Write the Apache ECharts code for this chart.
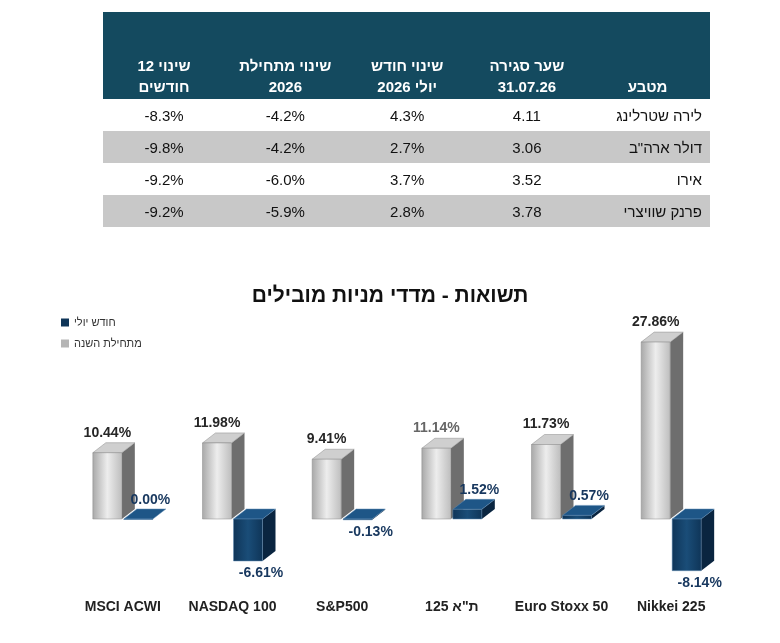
<!DOCTYPE html>
<html><head><meta charset="utf-8">
<script src="https://cdn.jsdelivr.net/npm/echarts@6/dist/echarts.min.js"></script>
<style>
body{margin:0;background:#fff;font-family:"Liberation Sans","DejaVu Sans",sans-serif;}
#chart{position:absolute;left:0;top:0;width:780px;height:643px;}
table{position:absolute;left:103px;top:12px;width:607px;border-collapse:collapse;direction:rtl;z-index:2;}
th{background:#144a5f;color:#fff;font-size:15px;font-weight:bold;height:85px;vertical-align:bottom;padding:0 4px 2px;text-align:center;line-height:21px;}
td{font-size:15px;height:32px;padding:0;text-align:center;color:#111;}
td.n{text-align:right;padding-right:8px;}
tr.g td{background:#c8c8c8;}
</style></head><body>
<div id="chart"></div>
<table id="tbl"></table>
<script>
// table data
let headers = ["מטבע", "שער סגירה<br>31.07.26", "שינוי חודש<br>יולי 2026", "שינוי מתחילת<br>2026", "שינוי 12<br>חודשים"];
let colWidths = [125, 115, 125, 120, 122];
let currencies = ["לירה שטרלינג", "דולר ארה\"ב", "אירו", "פרנק שוויצרי"];
let closing = ["4.11", "3.06", "3.52", "3.78"];
let monthChg = ["4.3%", "2.7%", "3.7%", "2.8%"];
let ytdChg = ["-4.2%", "-4.2%", "-6.0%", "-5.9%"];
let yearChg = ["-8.3%", "-9.8%", "-9.2%", "-9.2%"];

// chart data
let categories = ["MSCI ACWI", "NASDAQ 100", "S&P500", "ת\"א 125", "Euro Stoxx 50", "Nikkei 225"];
let ytdValues = [10.44, 11.98, 9.41, 11.14, 11.73, 27.86];
let julyValues = [0.00, -6.61, -0.13, 1.52, 0.57, -8.14];

let html = "<tr>" + headers.map((h, i) => `<th style="width:${colWidths[i]}px">${h}</th>`).join("") + "</tr>";
currencies.forEach((c, i) => {
  html += `<tr class="${i % 2 ? "g" : ""}"><td class="n">${c}</td><td>${closing[i]}</td>` +
    `<td dir="ltr">${monthChg[i]}</td><td dir="ltr">${ytdChg[i]}</td><td dir="ltr">${yearChg[i]}</td></tr>`;
});
document.getElementById("tbl").innerHTML = html;

const FONT = "Liberation Sans";
const BW = 29, DX = 13, DY = -10;

let bar3d = (offset, faces, labelColor, labelMode) => (params, api) => {
  let v = api.value(1);
  let c = api.coord([api.value(0), v]);
  let z = api.coord([api.value(0), 0]);
  let x0 = c[0] + offset, x1 = x0 + BW;
  let top = Math.min(c[1], z[1]), bot = Math.max(c[1], z[1]);
  let label;
  let txt = v.toFixed(2) + "%";
  if (labelMode === "gray") {
    label = { type: "text", style: { x: x0 + BW / 2, y: top + DY - 3, text: txt, fill: labelColor[params.dataIndex] || labelColor[0],
      font: "bold 14px " + FONT, align: "center", verticalAlign: "bottom" } };
  } else if (v >= 0) {
    label = { type: "text", style: { x: x0 + BW / 2 + 12, y: top + DY - 2, text: txt, fill: labelColor[0],
      font: "bold 14px " + FONT, align: "center", verticalAlign: "bottom" } };
  } else {
    label = { type: "text", style: { x: x0 + BW / 2 + 13, y: bot + 5, text: txt, fill: labelColor[0],
      font: "bold 14px " + FONT, align: "center", verticalAlign: "top" } };
  }
  return { type: "group", children: [
    { type: "polygon", shape: { points: [[x1, top], [x1 + DX, top + DY], [x1 + DX, bot + DY], [x1, bot]] }, style: { fill: faces.side } },
    { type: "polygon", shape: { points: [[x0, top], [x0 + DX, top + DY], [x1 + DX, top + DY], [x1, top]] }, style: { fill: faces.top, stroke: faces.edge, lineWidth: 0.5 } },
    { type: "rect", shape: { x: x0, y: top, width: BW, height: Math.max(bot - top, 0.5) }, style: { fill: faces.front, stroke: faces.edge, lineWidth: 0.5 } },
    label
  ] };
};

let grayFront = new echarts.graphic.LinearGradient(0, 0, 1, 0, [
  { offset: 0, color: "#a8a8a8" }, { offset: 0.5, color: "#ededed" }, { offset: 1, color: "#bdbdbd" }]);
let blueFront = new echarts.graphic.LinearGradient(0, 0, 1, 0, [
  { offset: 0, color: "#0f3558" }, { offset: 0.5, color: "#1a4d78" }, { offset: 1, color: "#0f3558" }]);

let chart = echarts.init(document.getElementById("chart"));
chart.setOption({
  animation: false,
  title: { text: "תשואות - מדדי מניות מובילים", left: "center", top: 281,
    textStyle: { fontFamily: FONT, fontSize: 21, fontWeight: "bold", color: "#111" } },
  legend: { orient: "vertical", left: 56, top: 312, itemWidth: 8, itemHeight: 8, itemGap: 10,
    textStyle: { fontFamily: FONT, fontSize: 11, color: "#333" },
    data: [{ name: "חודש יולי", icon: "rect" }, { name: "מתחילת השנה", icon: "rect" }] },
  grid: { left: 68, right: 54, top: 328.5, bottom: 60.5 },
  xAxis: { type: "category", data: categories, axisLine: { show: false }, axisTick: { show: false },
    axisLabel: { interval: 0, margin: 18, fontFamily: FONT, fontSize: 14, fontWeight: "bold", color: "#222" } },
  yAxis: { type: "value", min: -10, max: 30, show: false },
  series: [
    { name: "חודש יולי", type: "custom", itemStyle: { color: "#0f3558" },
      renderItem: bar3d(1, { front: blueFront, side: "#0a2540", top: "#1e5687", edge: "#5f8bb3" }, ["#17375e"], "blue"),
      encode: { x: 0, y: 1 }, data: julyValues.map((v, i) => [i, v]), z: 3 },
    { name: "מתחילת השנה", type: "custom", itemStyle: { color: "#b5b5b5" },
      renderItem: bar3d(-30, { front: grayFront, side: "#6e6e6e", top: "#cfcfcf", edge: "#8a8a8a" },
        ["#262626", "#262626", "#262626", "#666666", "#262626", "#262626"], "gray"),
      encode: { x: 0, y: 1 }, data: ytdValues.map((v, i) => [i, v]), z: 2 }
  ]
});
</script>
</body></html>
